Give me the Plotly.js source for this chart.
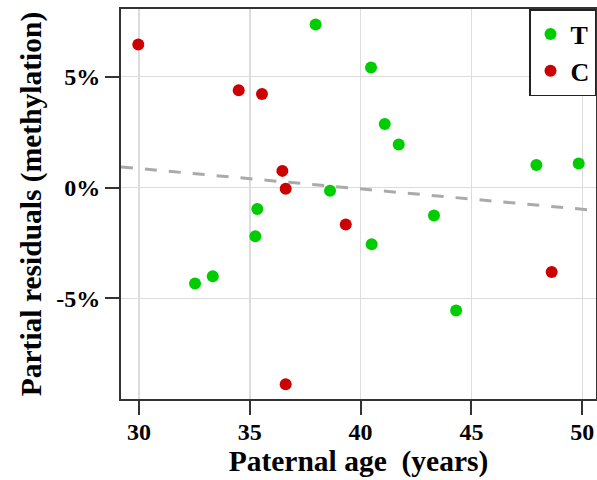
<!DOCTYPE html>
<html>
<head>
<meta charset="utf-8">
<script src="https://cdn.plot.ly/plotly-3.0.1.min.js"></script>
<style>html,body{margin:0;padding:0;background:#fff;}#chart{width:597px;height:480px;}</style>
</head>
<body>
<div id="chart"></div>
<script>
// Group T (green)
const tAge = [37.97, 38.62, 35.34, 40.47, 41.09, 41.72, 47.93, 49.84, 35.25, 33.33, 32.53, 43.31, 40.50, 44.31];
const tResid = [7.36, -0.15, -0.97, 5.42, 2.87, 1.94, 1.02, 1.08, -2.20, -4.00, -4.33, -1.26, -2.56, -5.55];
// Group C (red)
const cAge = [29.97, 34.50, 35.55, 36.47, 36.62, 36.62, 39.33, 48.62];
const cResid = [6.45, 4.39, 4.22, 0.75, -0.06, -8.88, -1.67, -3.81];
// Fitted trend line
const fitAtForty = -0.063;
const fitSlope = -0.0919;
const xRange = [29.19, 50.62];
const yRange = [-9.544, 8.055];
const groupNames = ['T', 'C'];
const xTickVals = [30, 35, 40, 45, 50];
const xTickText = ['30', '35', '40', '45', '50'];
const yTickVals = [-5, 0, 5];
const yTickText = ['-5%', '0%', '5%'];

const fitX = xRange.slice();
const fitY = fitX.map(x => fitAtForty + fitSlope * (x - 40));

const serif = "'Liberation Serif', 'Times New Roman', serif";
const data = [
  {x: fitX, y: fitY, mode: 'lines', showlegend: false, hoverinfo: 'skip',
   line: {color: '#aaaaaa', width: 3, dash: '12px,12px'}},
  {x: tAge, y: tResid, mode: 'markers', name: groupNames[0],
   marker: {color: '#00cd00', size: 12}},
  {x: cAge, y: cResid, mode: 'markers', name: groupNames[1],
   marker: {color: '#cd0000', size: 12}}
];

const axisCommon = {
  showline: true, mirror: true, linecolor: '#333', linewidth: 2,
  ticks: 'outside', ticklen: 14, tickwidth: 2, tickcolor: '#333',
  showgrid: true, gridcolor: '#dcdcdc', gridwidth: 1.5, zeroline: false,
  tickfont: {family: serif, size: 24, color: '#000', weight: 'bold'}
};

const layout = {
  width: 597, height: 480,
  margin: {l: 121, r: 1, t: 9, b: 81},
  paper_bgcolor: '#fff', plot_bgcolor: '#fff',
  showlegend: true,
  legend: {x: 1, xanchor: 'right', y: 1, yanchor: 'top',
    bordercolor: '#222', borderwidth: 1.5, bgcolor: '#fff',
    font: {family: serif, size: 26, color: '#000', weight: 'bold'},
    itemwidth: 30, tracegroupgap: 0},
  xaxis: Object.assign({}, axisCommon, {
    range: xRange, tickmode: 'array', tickvals: xTickVals, ticktext: xTickText,
    ticklabelstandoff: -4,
    title: {text: 'Paternal age\u00a0 (years)', standoff: 4,
      font: {family: serif, size: 29.5, color: '#000', weight: 'bold'}}
  }),
  yaxis: Object.assign({}, axisCommon, {
    range: yRange, tickmode: 'array', tickvals: yTickVals, ticktext: yTickText,
    title: {text: 'Partial residuals (methylation)', standoff: 6,
      font: {family: serif, size: 29.5, color: '#000', weight: 'bold'}}
  })
};

Plotly.newPlot('chart', data, layout, {displayModeBar: false, staticPlot: true});
</script>
</body>
</html>
